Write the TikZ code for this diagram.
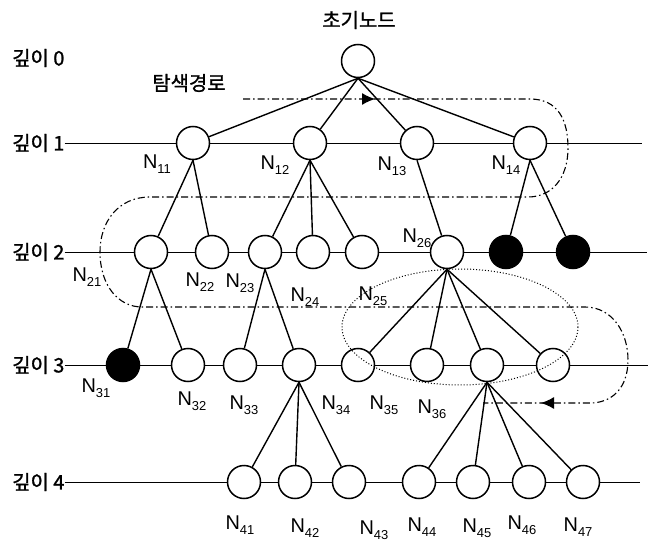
\documentclass[tikz,border=0pt]{standalone}
\usepackage{fontspec}
\setmainfont{Liberation Sans}
\newfontfamily\krfont[FakeBold=1.2]{Noto Sans CJK KR}
\usetikzlibrary{arrows.meta,decorations.markings}
\newcommand{\nlab}[1]{N\raisebox{-0.5ex}{\fontsize{13}{13}\selectfont #1}}
\begin{document}
\begin{tikzpicture}[x=1bp,y=-1bp,
  nd/.style={circle,draw,line width=1.5bp,fill=white,minimum size=33bp,inner sep=0},
  blk/.style={nd,fill=black},
  lbl/.style={font=\fontsize{20}{20}\selectfont,inner sep=0},
  kr/.style={font=\krfont\fontsize{20}{20}\selectfont,inner sep=0},
  lvl/.style={line width=0.9bp},
  edge/.style={line width=1.4bp},
  searchpath/.style={line width=1.1bp,dash pattern=on 7bp off 3bp on 1.5bp off 3bp},
  arrowmarks/.style={postaction={decorate},decoration={markings,
     mark=at position 132bp with {\arrow{Latex[length=13bp,width=12bp]}},
     mark=at position -58bp with {\arrow{Latex[length=13bp,width=12bp]}}}}
]
\useasboundingbox (0,0) rectangle (654,545);
% depth labels and lines
\node[kr,anchor=west] (d0) at (12,58) {깊이 0};
\node[kr,anchor=west] (d1) at (12,143) {깊이 1};
\node[kr,anchor=west] (d2) at (12,252) {깊이 2};
\node[kr,anchor=west] (d3) at (12,365) {깊이 3};
\node[kr,anchor=west] (d4) at (12,482) {깊이 4};
\coordinate (e1) at (642,143);
\coordinate (e2) at (647,252);
\coordinate (e3) at (648,365);
\coordinate (e4) at (640,482);
\draw[lvl] (d1.east) -- (e1);
\draw[lvl] (d2.east) -- (e2);
\draw[lvl] (d3.east) -- (e3);
\draw[lvl] (d4.east) -- (e4);
% titles
\node[kr] (title) at (359,20) {초기노드};
\node[kr] (srch) at (189,83) {탐색경로};
% nodes
\node[nd] (r) at (358,61) {};
\node[nd] (n11) at (193,143) {};
\node[nd] (n12) at (310,143) {};
\node[nd] (n13) at (417,143) {};
\node[nd] (n14) at (530,143) {};
\node[nd] (n21) at (151,252) {};
\node[nd] (n22) at (212,252) {};
\node[nd] (n23) at (265,252) {};
\node[nd] (n24) at (313,252) {};
\node[nd] (n25) at (362,252) {};
\node[nd] (n26) at (447,252) {};
\node[blk] (b1) at (506,252) {};
\node[blk] (b2) at (573,252) {};
\node[blk] (n31) at (123,365) {};
\node[nd] (n32) at (188,365) {};
\node[nd] (n33) at (240,365) {};
\node[nd] (n34) at (299,365) {};
\node[nd] (n35) at (358,365) {};
\node[nd] (n36) at (427,365) {};
\node[nd] (n37) at (487,365) {};
\node[nd] (n38) at (553,365) {};
\node[nd] (n41) at (244,482) {};
\node[nd] (n42) at (295,482) {};
\node[nd] (n43) at (349,482) {};
\node[nd] (n44) at (419,482) {};
\node[nd] (n45) at (473,482) {};
\node[nd] (n46) at (529,482) {};
\node[nd] (n47) at (583,482) {};
% edges
\foreach \c in {n11,n12,n13,n14} \draw[edge] (r.south) -- (\c);
\foreach \c in {n21,n22} \draw[edge] (n11.south) -- (\c);
\foreach \c in {n23,n24,n25} \draw[edge] (n12.south) -- (\c);
\draw[edge] (n13.south) -- (n26);
\foreach \c in {b1,b2} \draw[edge] (n14.south) -- (\c);
\foreach \c in {n31,n32} \draw[edge] (n21.south) -- (\c);
\foreach \c in {n33,n34} \draw[edge] (n23.south) -- (\c);
\foreach \c in {n35,n36,n37,n38} \draw[edge] (n26.south) -- (\c);
\foreach \c in {n41,n42,n43} \draw[edge] (n34.south) -- (\c);
\foreach \c in {n44,n45,n46,n47} \draw[edge] (n37.south) -- (\c);
% search path
\coordinate (p0) at (243,99);
\coordinate (p1) at (483,403);
\draw[searchpath,arrowmarks] (p0) -- (530,99)
  .. controls (558,99) and (568,120) .. (568,148)
  .. controls (568,178) and (552,197) .. (528,197) -- (150,197)
  .. controls (118,197) and (100,222) .. (100,252)
  .. controls (100,285) and (118,307) .. (142,307) -- (585,307)
  .. controls (612,307) and (628,332) .. (628,360)
  .. controls (628,388) and (612,403) .. (590,403) -- (p1);
% dotted ellipse
\draw[dotted,line width=1bp] (460,327) ellipse [x radius=118, y radius=58];
% labels
\node[lbl] (l11) at (157,164) {\nlab{11}};
\node[lbl] (l12) at (275,165) {\nlab{12}};
\node[lbl] (l13) at (392,166) {\nlab{13}};
\node[lbl] (l14) at (506,165) {\nlab{14}};
\node[lbl] (l21) at (87,277) {\nlab{21}};
\node[lbl] (l22) at (200,282) {\nlab{22}};
\node[lbl] (l23) at (240,283) {\nlab{23}};
\node[lbl] (l24) at (305,297) {\nlab{24}};
\node[lbl] (l25) at (373,296) {\nlab{25}};
\node[lbl] (l26) at (417,238) {\nlab{26}};
\node[lbl] (l31) at (96,388) {\nlab{31}};
\node[lbl] (l32) at (192,401) {\nlab{32}};
\node[lbl] (l33) at (244,405) {\nlab{33}};
\node[lbl] (l34) at (336,405) {\nlab{34}};
\node[lbl] (l35) at (384,405) {\nlab{35}};
\node[lbl] (l36) at (432,409) {\nlab{36}};
\node[lbl] (l41) at (240,525) {\nlab{41}};
\node[lbl] (l42) at (305,528) {\nlab{42}};
\node[lbl] (l43) at (374,530) {\nlab{43}};
\node[lbl] (l44) at (422,527) {\nlab{44}};
\node[lbl] (l45) at (477,528) {\nlab{45}};
\node[lbl] (l46) at (522,525) {\nlab{46}};
\node[lbl] (l47) at (578,527) {\nlab{47}};
\end{tikzpicture}
\end{document}
